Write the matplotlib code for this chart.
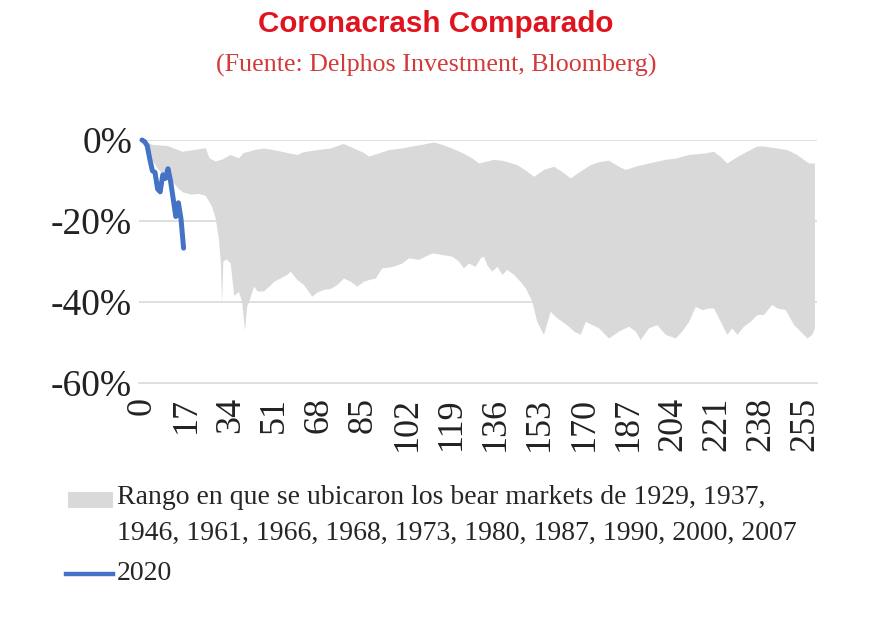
import numpy as np
import matplotlib
matplotlib.use("Agg")
import matplotlib.pyplot as plt
from matplotlib.patches import Rectangle
from matplotlib.lines import Line2D

# Data (days since peak, drawdown in %)
covid_days = list(range(17))
covid_2020 = [0, -0.4, -1.4, -4.7, -7.6, -8.0, -12.1, -12.8, -8.6, -9.5, -7.1,
              -10.2, -14.5, -18.9, -15.5, -19.5, -26.7]

# upper edge of the historical range
top_days = [0, 4, 10, 15.5, 20, 24.5, 26, 28.3, 31, 34, 37.3, 39.2, 41.2, 43.1,
            46.9, 50.8, 55.9, 59.7, 62.3, 67.4, 72.6, 76.4, 77.7, 81.5, 85.4,
            87.3, 91.2, 95, 100.1, 104, 107.8, 112.3, 115.5, 119.3, 123.2, 127,
            129.6, 131.5, 135.4, 139.2, 144.4, 148.2, 150.8, 154.6, 158.5, 162.3,
            164.9, 168.7, 172.6, 175.8, 179.6, 183.5, 186, 189.9, 195, 201.4,
            205.3, 210.4, 216.8, 220, 222.6, 225.1, 229, 232.8, 236.7, 239.2,
            244.3, 248.2, 252, 254.6, 256.5, 258.8]
top_vals = [0, -1.2, -1.5, -2.9, -2.5, -2.0, -4.5, -5.3, -4.8, -3.7, -4.5, -3.2,
            -2.9, -2.5, -2.1, -2.5, -3.2, -3.7, -3.0, -2.5, -2.1, -1.2, -1.0,
            -2.1, -3.2, -4.1, -3.3, -2.5, -2.1, -1.6, -1.2, -0.6, -1.2, -2.1,
            -3.2, -4.5, -5.8, -5.5, -4.9, -5.2, -6.2, -7.8, -9.1, -7.4, -6.6,
            -8.2, -9.5, -7.8, -6.2, -5.5, -5.1, -6.6, -7.4, -6.6, -5.8, -4.9,
            -4.6, -3.7, -3.3, -2.9, -4.2, -5.8, -4.2, -2.9, -1.6, -1.6, -2.1,
            -2.5, -3.7, -4.9, -5.8, -5.8]

# lower edge of the historical range
low_days = [0, 2, 4, 6, 8, 10, 12, 14, 16, 19, 22, 24.5, 25.8, 27, 28.3, 29.5,
            30.3, 30.8, 31.3, 32.5, 34.1, 35.5, 37.3, 38.5, 39.6, 40.5, 41.2,
            43.1, 44.5, 46.9, 49, 50.8, 53.3, 55.9, 57.2, 59.7, 62.3, 65.5, 67.4,
            70, 72.6, 75.1, 77.7, 80.3, 82.8, 85.4, 87.3, 89.9, 92.4, 96.3,
            100.1, 102.7, 106.5, 109.1, 111.7, 115.5, 119.3, 121.9, 123.8, 125.8,
            128.3, 130.3, 131.5, 132.8, 134.7, 136.7, 138.6, 140.5, 143.1, 145.6,
            147.6, 150.1, 152, 154.6, 157.2, 159.1, 161.7, 164.2, 166.2, 168.7,
            170.7, 173.2, 175.8, 179.6, 183.5, 187.3, 189.9, 191.8, 195, 198.2,
            201.4, 205.3, 207.8, 210.4, 213, 215.5, 218.1, 220, 222.6, 225.1,
            227, 229, 231.5, 234.1, 236.7, 239.2, 242.4, 244.3, 247.6, 250.8,
            253.3, 255.9, 257.8, 258.8]
low_vals = [0, -2.5, -5.0, -7.0, -8.5, -9.5, -10.5, -12.0, -13.0, -13.5, -13.3,
            -13.8, -15.2, -16.5, -19.3, -24.0, -30.0, -40.3, -30.0, -29.5, -30.4,
            -38.5, -37.5, -40.0, -47.0, -41.0, -40.0, -36.2, -37.4, -37.4, -36.2,
            -35.0, -34.2, -33.3, -32.5, -34.5, -35.8, -38.7, -37.7, -37.0, -36.8,
            -35.8, -34.2, -35.0, -36.2, -35.0, -34.6, -34.2, -31.7, -31.4, -30.5,
            -29.2, -29.6, -28.8, -28.0, -28.4, -28.8, -30.0, -31.7, -30.5, -31.3,
            -29.2, -28.8, -30.9, -32.5, -31.3, -33.3, -32.1, -33.3, -35.0, -36.6,
            -39.9, -44.9, -48.1, -42.4, -43.7, -44.9, -46.1, -47.3, -48.1, -44.9,
            -45.7, -46.5, -49.0, -47.3, -46.1, -47.3, -49.4, -46.5, -45.7, -48.1,
            -49.0, -47.3, -44.9, -41.2, -42.0, -41.6, -41.6, -44.9, -48.1, -46.5,
            -48.1, -46.1, -44.9, -43.2, -43.2, -40.7, -41.6, -42.0, -45.7, -47.3,
            -49.0, -48.1, -46.5]

x_ticks = list(range(0, 256, 17))
y_ticks = [0, -20, -40, -60]
y_labels = ["0%", "-20%", "-40%", "-60%"]

band_lines = ["Rango en que se ubicaron los bear markets de 1929, 1937,",
              "1946, 1961, 1966, 1968, 1973, 1980, 1987, 1990, 2000, 2007"]

grey = "#d9d9d9"
blue = "#4472c4"
serif = "Liberation Serif"
W, H = 872, 625

fig = plt.figure(figsize=(W / 100, H / 100), dpi=100)
ax = fig.add_axes([139 / W, 1 - 383 / H, (817 - 139) / W, (383 - 140) / H])

# band as one polygon: top edge forward, bottom edge back
ax.fill(np.concatenate([top_days, low_days[::-1]]),
        np.concatenate([top_vals, low_vals[::-1]]),
        color=grey, lw=0, zorder=2)
ax.plot(covid_days, covid_2020, color=blue, lw=3.6, zorder=3,
        solid_capstyle="round", clip_on=False)

ax.set_xlim(-1.15, 259.6)
ax.set_ylim(-60, 0)
for yv in y_ticks[:-1]:
    ax.axhline(yv, color=grey, lw=1.2, zorder=1)

ax.set_xticks(x_ticks)
ax.set_xticklabels([str(t) for t in x_ticks], rotation=90,
                   fontsize=26, family=serif, color="#222222")
ax.set_yticks(y_ticks)
ax.set_yticklabels(y_labels, fontsize=27, family=serif, color="#222222")
ax.tick_params(axis="y", length=0, pad=5)
ax.tick_params(axis="x", length=0, pad=10)

for s in ["top", "right", "left"]:
    ax.spines[s].set_visible(False)
ax.spines["bottom"].set_color(grey)
ax.spines["bottom"].set_linewidth(1.2)

fig.text(0.5, 1 - 24 / H, "Coronacrash Comparado", ha="center", va="center",
         fontsize=21.3, fontweight="bold", color="#e0141e",
         family="Liberation Sans")
fig.text(0.5, 1 - 65 / H, "(Fuente: Delphos Investment, Bloomberg)",
         ha="center", va="center", fontsize=18.7, color="#d33a3a", family=serif)

# legend drawn by hand to keep the wrapped text under the swatch
fig.add_artist(Rectangle((68 / W, 1 - 508 / H), 45 / W, 16 / H,
                         transform=fig.transFigure, color=grey, lw=0))
fig.text(117 / W, 1 - 498 / H, band_lines[0], ha="left", va="center",
         fontsize=20, color="#262626", family=serif)
fig.text(117 / W, 1 - 533 / H, band_lines[1], ha="left", va="center",
         fontsize=20, color="#262626", family=serif)
fig.add_artist(Line2D([66 / W, 113 / W], [1 - 574 / H, 1 - 574 / H],
                      transform=fig.transFigure, color=blue, lw=3.2))
fig.text(117 / W, 1 - 574 / H, "2020", ha="left", va="center",
         fontsize=20, color="#262626", family=serif)

fig.savefig("out.png", dpi=100, facecolor="white")
